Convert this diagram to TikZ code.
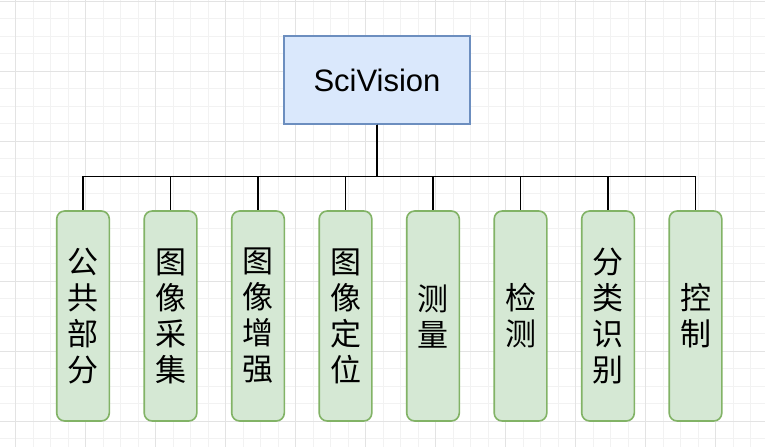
\documentclass[tikz,border=0pt]{standalone}
\usepackage{fontspec}
\setmainfont{Liberation Sans}
\newfontfamily\cjk{Noto Sans CJK SC}
\usetikzlibrary{positioning}
\definecolor{rootfill}{HTML}{DAE8FC}
\definecolor{rootline}{HTML}{6C8EBF}
\definecolor{modfill}{HTML}{D5E8D4}
\definecolor{modline}{HTML}{82B366}
\tikzset{
  root/.style={draw=rootline, fill=rootfill, line width=1.4pt, minimum width=186pt, minimum height=88pt, inner sep=0pt, font=\fontsize{31}{36}\selectfont},
  module/.style={draw=modline, fill=modfill, line width=1.6pt, rounded corners=8pt, minimum width=52.6pt, minimum height=210pt, inner sep=0pt, align=center, font=\cjk\fontsize{31}{36}\selectfont},
  link/.style={line width=1.4pt},
  gridminor/.style={draw=black!5, line width=0.8pt},
  gridmajor/.style={draw=black!11, line width=0.8pt},
}

\begin{document}
\begin{tikzpicture}[x=1pt, y=-1pt]
  \useasboundingbox (0,0) rectangle (765,447);
  \fill[white] (0,0) rectangle (765,447);
  % grid
  \foreach \k in {0,...,42} \draw[gridminor] ({15.5+17.5*\k},0) -- ({15.5+17.5*\k},447);
  \foreach \k in {0,...,25} \draw[gridminor] (0,{1+17.5*\k}) -- (765,{1+17.5*\k});
  \foreach \k in {0,...,10} \draw[gridmajor] ({15.5+70*\k},0) -- ({15.5+70*\k},447);
  \foreach \k in {0,...,6} \draw[gridmajor] (0,{1+70*\k}) -- (765,{1+70*\k});

  \node[root] (sv) at (377,80) {SciVision};

  \foreach \t [count=\i] in {{公\\共\\部\\分}, {图\\像\\采\\集}, {图\\像\\增\\强}, {图\\像\\定\\位}, {测\\量}, {检\\测}, {分\\类\\识\\别}, {控\\制}} {
    \node[module] (m\i) at ({83+87.5*(\i-1)},316) {\t};
    \draw[link] (sv.south) -- ++(0,52) -| (m\i.north);
  }
\end{tikzpicture}
\end{document}
